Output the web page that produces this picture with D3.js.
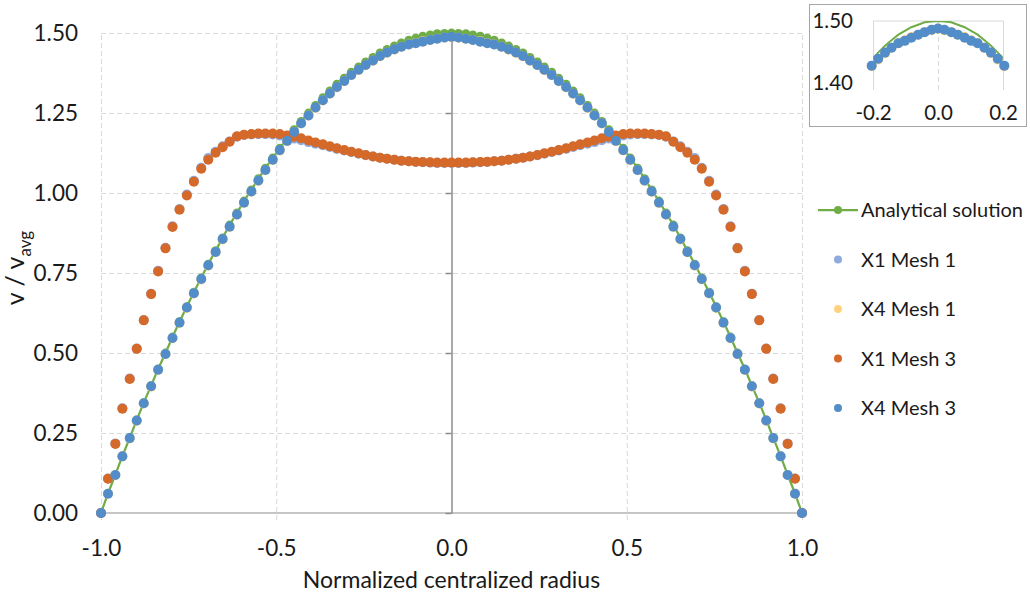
<!DOCTYPE html>
<html>
<head>
<meta charset="utf-8">
<script src="https://cdn.jsdelivr.net/npm/d3@7"></script>
<style>
    body { margin: 0; background: #fff; }
    text { font-family: Lato, sans-serif; }
</style>
</head>
<body>
<div class="d3-container"></div>
<script>
// normalized radius of every sample point
const radius = [-1, -0.980, -0.959, -0.939, -0.918, -0.898, -0.878, -0.857, -0.837, -0.816,
    -0.796, -0.776, -0.755, -0.735, -0.714, -0.694, -0.673, -0.653, -0.633, -0.612,
    -0.592, -0.571, -0.551, -0.531, -0.510, -0.490, -0.469, -0.449, -0.429, -0.408,
    -0.388, -0.367, -0.347, -0.327, -0.306, -0.286, -0.265, -0.245, -0.224, -0.204,
    -0.184, -0.163, -0.143, -0.122, -0.102, -0.082, -0.061, -0.041, -0.020, 0,
    0.020, 0.041, 0.061, 0.082, 0.102, 0.122, 0.143, 0.163, 0.184, 0.204,
    0.224, 0.245, 0.265, 0.286, 0.306, 0.327, 0.347, 0.367, 0.388, 0.408,
    0.429, 0.449, 0.469, 0.490, 0.510, 0.531, 0.551, 0.571, 0.592, 0.612,
    0.633, 0.653, 0.673, 0.694, 0.714, 0.735, 0.755, 0.776, 0.796, 0.816,
    0.837, 0.857, 0.878, 0.898, 0.918, 0.939, 0.959, 0.980, 1]

const analytical = [0, 0.061, 0.120, 0.178, 0.235, 0.291, 0.345, 0.398, 0.450, 0.500,
    0.550, 0.598, 0.645, 0.690, 0.735, 0.778, 0.820, 0.860, 0.900, 0.938,
    0.975, 1.010, 1.045, 1.078, 1.110, 1.140, 1.170, 1.198, 1.224, 1.250,
    1.274, 1.298, 1.319, 1.340, 1.359, 1.378, 1.394, 1.410, 1.424, 1.438,
    1.449, 1.460, 1.469, 1.478, 1.484, 1.490, 1.494, 1.498, 1.499, 1.500,
    1.499, 1.498, 1.494, 1.490, 1.484, 1.478, 1.469, 1.460, 1.449, 1.438,
    1.424, 1.410, 1.394, 1.378, 1.359, 1.340, 1.319, 1.298, 1.274, 1.250,
    1.224, 1.198, 1.170, 1.140, 1.110, 1.078, 1.045, 1.010, 0.975, 0.938,
    0.900, 0.860, 0.820, 0.778, 0.735, 0.690, 0.645, 0.598, 0.550, 0.500,
    0.450, 0.398, 0.345, 0.291, 0.235, 0.178, 0.120, 0.061, 0]

const x1Mesh1 = [0, 0.108, 0.217, 0.327, 0.420, 0.514, 0.603, 0.685, 0.757, 0.829,
    0.896, 0.950, 0.995, 1.038, 1.079, 1.109, 1.129, 1.146, 1.161, 1.176,
    1.181, 1.183, 1.184, 1.184, 1.183, 1.180, 1.175, 1.170, 1.165, 1.159,
    1.154, 1.149, 1.144, 1.138, 1.133, 1.128, 1.123, 1.118, 1.114, 1.110,
    1.107, 1.104, 1.101, 1.099, 1.097, 1.096, 1.095, 1.094, 1.094, 1.094,
    1.094, 1.094, 1.095, 1.096, 1.097, 1.099, 1.101, 1.104, 1.107, 1.110,
    1.114, 1.118, 1.123, 1.128, 1.133, 1.138, 1.144, 1.149, 1.154, 1.159,
    1.165, 1.170, 1.175, 1.180, 1.183, 1.184, 1.184, 1.183, 1.181, 1.176,
    1.161, 1.146, 1.129, 1.109, 1.079, 1.038, 0.995, 0.950, 0.896, 0.829,
    0.757, 0.685, 0.603, 0.514, 0.420, 0.327, 0.217, 0.108, 0]

const x4Mesh1 = [0, 0.060, 0.119, 0.177, 0.233, 0.288, 0.342, 0.395, 0.447, 0.496,
    0.546, 0.594, 0.641, 0.686, 0.730, 0.773, 0.815, 0.855, 0.894, 0.932,
    0.969, 1.004, 1.038, 1.071, 1.103, 1.133, 1.162, 1.190, 1.217, 1.242,
    1.266, 1.289, 1.310, 1.330, 1.349, 1.368, 1.384, 1.399, 1.413, 1.427,
    1.438, 1.448, 1.457, 1.464, 1.469, 1.474, 1.478, 1.482, 1.485, 1.487,
    1.485, 1.482, 1.478, 1.474, 1.469, 1.464, 1.457, 1.448, 1.438, 1.427,
    1.413, 1.399, 1.384, 1.368, 1.349, 1.330, 1.310, 1.289, 1.266, 1.242,
    1.217, 1.190, 1.162, 1.133, 1.103, 1.071, 1.038, 1.004, 0.969, 0.932,
    0.894, 0.855, 0.815, 0.773, 0.730, 0.686, 0.641, 0.594, 0.546, 0.496,
    0.447, 0.395, 0.342, 0.288, 0.233, 0.177, 0.119, 0.060, 0]

const x1Mesh3 = [0, 0.107, 0.216, 0.326, 0.419, 0.513, 0.602, 0.684, 0.755, 0.827,
    0.894, 0.948, 0.992, 1.035, 1.076, 1.104, 1.126, 1.143, 1.160, 1.177,
    1.182, 1.184, 1.186, 1.186, 1.186, 1.184, 1.180, 1.176, 1.171, 1.164,
    1.158, 1.152, 1.146, 1.140, 1.134, 1.129, 1.124, 1.119, 1.114, 1.110,
    1.107, 1.104, 1.101, 1.099, 1.098, 1.097, 1.096, 1.095, 1.095, 1.095,
    1.095, 1.095, 1.096, 1.097, 1.098, 1.099, 1.101, 1.104, 1.107, 1.110,
    1.114, 1.119, 1.124, 1.129, 1.134, 1.140, 1.146, 1.152, 1.158, 1.164,
    1.171, 1.176, 1.180, 1.184, 1.186, 1.186, 1.186, 1.184, 1.182, 1.177,
    1.160, 1.143, 1.126, 1.104, 1.076, 1.035, 0.992, 0.948, 0.894, 0.827,
    0.755, 0.684, 0.602, 0.513, 0.419, 0.326, 0.216, 0.107, 0]

const x4Mesh3 = [0, 0.060, 0.119, 0.177, 0.234, 0.289, 0.343, 0.396, 0.448, 0.497,
    0.547, 0.595, 0.642, 0.687, 0.731, 0.774, 0.816, 0.856, 0.895, 0.933,
    0.970, 1.005, 1.039, 1.072, 1.104, 1.134, 1.163, 1.191, 1.218, 1.242,
    1.267, 1.290, 1.311, 1.331, 1.350, 1.369, 1.385, 1.400, 1.414, 1.428,
    1.439, 1.449, 1.457, 1.464, 1.468, 1.473, 1.478, 1.482, 1.486, 1.488,
    1.486, 1.482, 1.478, 1.473, 1.468, 1.464, 1.457, 1.449, 1.439, 1.428,
    1.414, 1.400, 1.385, 1.369, 1.350, 1.331, 1.311, 1.290, 1.267, 1.242,
    1.218, 1.191, 1.163, 1.134, 1.104, 1.072, 1.039, 1.005, 0.970, 0.933,
    0.895, 0.856, 0.816, 0.774, 0.731, 0.687, 0.642, 0.595, 0.547, 0.497,
    0.448, 0.396, 0.343, 0.289, 0.234, 0.177, 0.119, 0.060, 0]

const seriesNames = ['Analytical solution', 'X1 Mesh 1', 'X4 Mesh 1', 'X1 Mesh 3', 'X4 Mesh 3']
const xTicks = [-1, -0.5, 0, 0.5, 1]
const yTicks = [0, 0.25, 0.5, 0.75, 1, 1.25, 1.5]
const insetXTicks = [-0.2, 0, 0.2]
const insetYTicks = [1.4, 1.5]

const w = 1030
const h = 599
const colors = ['#70AD47', '#8FAADC', '#FFD27F', '#D4692A', '#528DCA']
const gridColor = '#D9D9D9'
const textColor = '#1A1A1A'
const dotR = 5

const toPoints = (vals) => radius.map((r, i) => ({ r: r, v: vals[i] })).filter(d => d.v !== undefined)
const series = [analytical, x1Mesh1, x4Mesh1, x1Mesh3, x4Mesh3].map(toPoints)

const svg = d3.select('.d3-container')
    .append('svg')
    .attr('width', w)
    .attr('height', h)

const x = d3.scaleLinear().domain([-1, 1]).range([101, 802])
const y = d3.scaleLinear().domain([0, 1.5]).range([513, 33])

// dashed grid
const tickOut = 7
svg.append('g')
    .attr('transform', `translate(0, ${y(0) + tickOut})`)
    .call(d3.axisBottom(x)
        .tickValues(xTicks.filter(d => d !== 0))
        .tickSize(-(y(0) + tickOut - y(1.5)))
        .tickFormat(''))
    .call(g => g.select('.domain').remove())
    .call(g => g.selectAll('line').attr('stroke', gridColor).attr('stroke-dasharray', '5,3'))

svg.append('g')
    .attr('transform', `translate(${x(-1)}, 0)`)
    .call(d3.axisLeft(y)
        .tickValues(yTicks.filter(d => d > 0))
        .tickSize(-(x(1) - x(-1)))
        .tickFormat(''))
    .call(g => g.select('.domain').remove())
    .call(g => g.selectAll('line').attr('stroke', gridColor).attr('stroke-dasharray', '5,3'))

// horizontal axis line at zero
svg.append('line')
    .attr('x1', x(-1)).attr('x2', x(1))
    .attr('y1', y(0)).attr('y2', y(0))
    .attr('stroke', '#C6C6C6')
    .attr('stroke-width', 2)

// vertical axis through r = 0
svg.append('g')
    .attr('transform', `translate(${x(0)}, 0)`)
    .call(d3.axisLeft(y).tickValues(yTicks).tickSize(6).tickSizeOuter(0).tickFormat(''))
    .call(g => g.selectAll('path, line').attr('stroke', '#8C8C8C').attr('stroke-width', 1.5))

// tick labels
svg.append('g')
    .attr('transform', 'translate(78, 0)')
    .call(d3.axisLeft(y).tickValues(yTicks).tickSize(0).tickPadding(0).tickFormat(d => d.toFixed(2)))
    .call(g => g.select('.domain').remove())
    .call(g => g.selectAll('text')
        .attr('fill', textColor)
        .style('font-family', 'Lato, sans-serif')
        .style('font-size', '22.5px'))

svg.append('g')
    .attr('transform', `translate(0, ${y(0)})`)
    .call(d3.axisBottom(x).tickValues(xTicks).tickSize(0).tickPadding(27).tickFormat(d => d.toFixed(1)))
    .call(g => g.select('.domain').remove())
    .call(g => g.selectAll('text')
        .attr('fill', textColor)
        .style('font-family', 'Lato, sans-serif')
        .style('font-size', '22.5px'))

// axis titles
svg.append('text')
    .attr('x', x(0))
    .attr('y', 588)
    .attr('text-anchor', 'middle')
    .attr('fill', textColor)
    .style('font-size', '23px')
    .text('Normalized centralized radius')

const yTitle = svg.append('text')
    .attr('transform', 'translate(24, 268) rotate(-90)')
    .attr('text-anchor', 'middle')
    .attr('fill', textColor)
    .style('font-size', '25px')
yTitle.append('tspan').text('v / v')
yTitle.append('tspan').attr('dy', 7).style('font-size', '17px').text('avg')

// series
const line = d3.line().x(d => x(d.r)).y(d => y(d.v))

svg.append('path')
    .datum(series[0])
    .attr('fill', 'none')
    .attr('stroke', colors[0])
    .attr('stroke-width', 2.25)
    .attr('d', line)

series.forEach((pts, k) => {
    svg.append('g')
        .selectAll('circle')
        .data(pts)
        .enter()
        .append('circle')
        .attr('cx', d => x(d.r))
        .attr('cy', d => y(d.v))
        .attr('r', k === 0 ? 4.4 : dotR)
        .attr('fill', colors[k])
})

// legend
const legend = svg.append('g')
    .attr('transform', 'translate(818, 210)')

seriesNames.forEach((name, i) => {
    const row = legend.append('g').attr('transform', `translate(0, ${i * 49.5})`)
    if (i === 0) {
        row.append('line')
            .attr('x1', 0).attr('x2', 40)
            .attr('stroke', colors[0])
            .attr('stroke-width', 2.25)
    }
    row.append('circle')
        .attr('cx', 20)
        .attr('r', 4)
        .attr('fill', colors[i])
    row.append('text')
        .attr('x', 43)
        .attr('dy', '0.35em')
        .attr('fill', textColor)
        .style('font-size', '20px')
        .text(name)
})

// zoomed inset around the centreline
const ix = d3.scaleLinear().domain([-0.2, 0.2]).range([873, 1003])
const iy = d3.scaleLinear().domain([1.4, 1.5]).range([83, 21])

const inset = svg.append('g')

inset.append('rect')
    .attr('x', 809.5).attr('y', 4.5)
    .attr('width', 217).attr('height', 122)
    .attr('fill', '#fff')
    .attr('stroke', '#A6A6A6')

inset.append('clipPath')
    .attr('id', 'inset-clip')
    .append('rect')
    .attr('x', ix(-0.2)).attr('y', iy(1.5))
    .attr('width', ix(0.2) - ix(-0.2)).attr('height', iy(1.4) - iy(1.5))

inset.append('g')
    .attr('transform', `translate(0, ${iy(1.4) + 7})`)
    .call(d3.axisBottom(ix).tickValues(insetXTicks).tickSize(-(iy(1.4) + 7 - iy(1.5))).tickFormat(''))
    .call(g => g.select('.domain').remove())
    .call(g => g.selectAll('line')
        .attr('stroke', gridColor)
        .attr('stroke-dasharray', d => d === 0 ? '5,3' : null))

inset.append('line')
    .attr('x1', ix(-0.2)).attr('x2', ix(0.2))
    .attr('y1', iy(1.5)).attr('y2', iy(1.5))
    .attr('stroke', gridColor)

inset.append('g')
    .attr('transform', 'translate(853, 0)')
    .call(d3.axisLeft(iy).tickValues(insetYTicks).tickSize(0).tickPadding(0).tickFormat(d => d.toFixed(2)))
    .call(g => g.select('.domain').remove())
    .call(g => g.selectAll('text')
        .attr('fill', textColor)
        .style('font-family', 'Lato, sans-serif')
        .style('font-size', '20.5px'))

inset.append('g')
    .attr('transform', `translate(0, ${iy(1.4)})`)
    .call(d3.axisBottom(ix).tickValues(insetXTicks).tickSize(0).tickPadding(22).tickFormat(d => d.toFixed(1)))
    .call(g => g.select('.domain').remove())
    .call(g => g.selectAll('text')
        .attr('fill', textColor)
        .style('font-family', 'Lato, sans-serif')
        .style('font-size', '20.5px'))

const iline = d3.line().x(d => ix(d.r)).y(d => iy(d.v))

inset.append('path')
    .datum(series[0])
    .attr('clip-path', 'url(#inset-clip)')
    .attr('fill', 'none')
    .attr('stroke', colors[0])
    .attr('stroke-width', 2)
    .attr('d', iline)

// points sitting on the inset border (r = ±0.204) are still shown, as in the source
series.slice(1).forEach((pts, k) => {
    inset.append('g')
        .selectAll('circle')
        .data(pts.filter(d => Math.abs(d.r) <= 0.205 && d.v >= 1.4 && d.v <= 1.5))
        .enter()
        .append('circle')
        .attr('cx', d => ix(d.r))
        .attr('cy', d => iy(d.v))
        .attr('r', dotR)
        .attr('fill', colors[k + 1])
})
</script>
</body>
</html>
